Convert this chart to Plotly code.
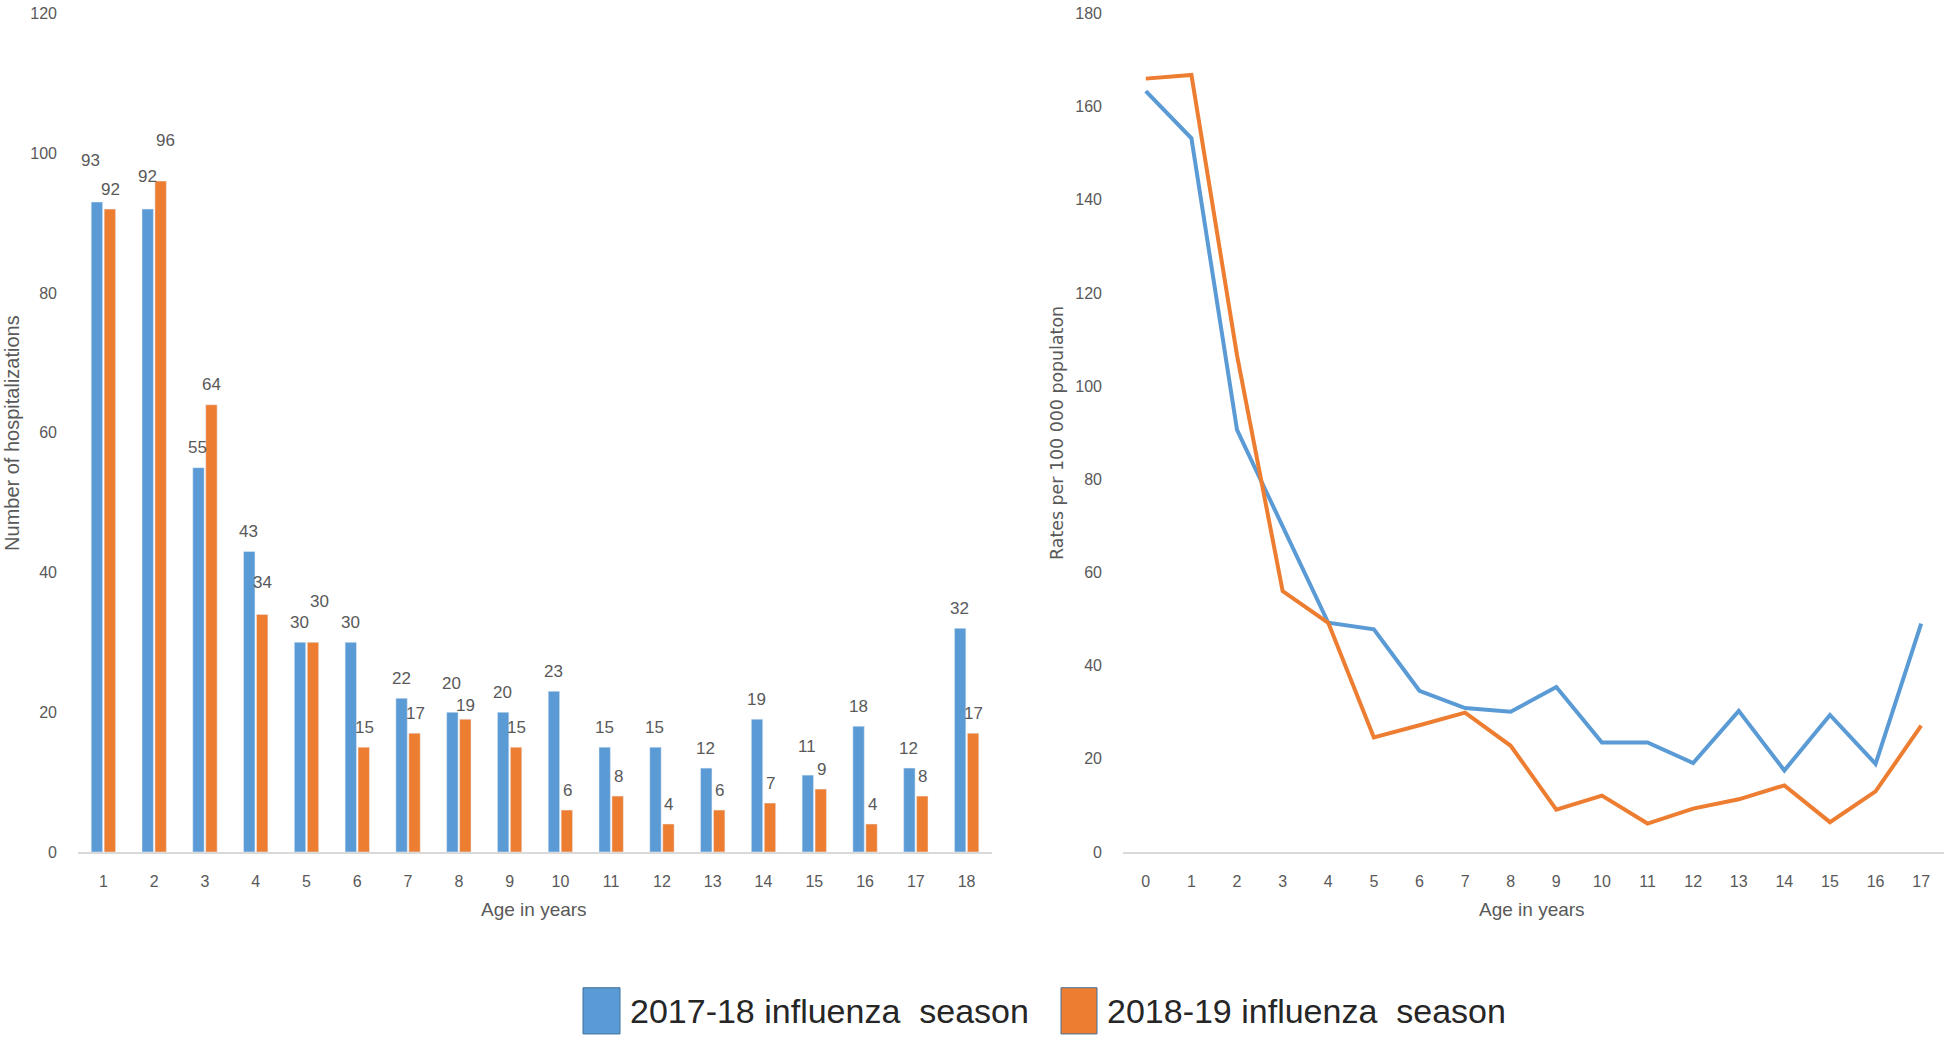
import plotly.graph_objects as go

# ---------------- data ----------------
ages_left = list(range(1, 19))
hosp_1718 = [93, 92, 55, 43, 30, 30, 22, 20, 20, 23, 15, 15, 12, 19, 11, 18, 12, 32]
hosp_1819 = [92, 96, 64, 34, 30, 15, 17, 19, 15, 6, 8, 4, 6, 7, 9, 4, 8, 17]

ages_right = list(range(0, 18))
rate_1718 = [163.3, 153.2, 90.6, 70.0, 49.2, 47.8, 34.6, 30.9, 30.1, 35.4,
             23.5, 23.5, 19.1, 30.3, 17.5, 29.4, 18.9, 49.0]
rate_1819 = [166.0, 166.8, 106.6, 56.0, 49.2, 24.6, 27.2, 29.9, 22.8, 9.1,
             12.1, 6.1, 9.3, 11.3, 14.3, 6.4, 13.0, 27.1]

season_names = ["2017-18 influenza  season", "2018-19 influenza  season"]
left_yticks = [0, 20, 40, 60, 80, 100, 120]
right_yticks = [0, 20, 40, 60, 80, 100, 120, 140, 160, 180]

# manual label nudges (pixels: dx, extra dy) as in the original figure
label_nudge = {
    (0, 1): (-6, 22), (0, 2): (0, 13), (1, 2): (4, 21), (1, 4): (0, 12),
    (1, 5): (6, 21), (0, 8): (0, 9), (1, 8): (0, -6), (0, 15): (0, 9),
}

BLUE = "#5B9BD5"
ORANGE = "#ED7D31"
GRAY = "#595959"
FONT = "Liberation Sans Narrow, Liberation Sans, sans-serif"

W, H = 1946, 1040
PLOT_TOP, PLOT_BOTTOM = 5.5, 858

def px(xp, yp):
    return xp / W, 1 - yp / H

fig = go.Figure()

fig.add_trace(go.Bar(x=ages_left, y=hosp_1718, marker_color=BLUE, name=season_names[0],
                     xaxis="x", yaxis="y", showlegend=False))
fig.add_trace(go.Bar(x=ages_left, y=hosp_1819, marker_color=ORANGE, name=season_names[1],
                     xaxis="x", yaxis="y", showlegend=False))

fig.add_trace(go.Scatter(x=ages_right, y=rate_1718, mode="lines", line=dict(color=BLUE, width=4),
                         xaxis="x2", yaxis="y2", showlegend=False))
fig.add_trace(go.Scatter(x=ages_right, y=rate_1819, mode="lines", line=dict(color=ORANGE, width=4),
                         xaxis="x2", yaxis="y2", showlegend=False))

annotations = []
# data labels above bars
for si, (series, base_dx) in enumerate([(hosp_1718, -7), (hosp_1819, 7)]):
    for a, v in zip(ages_left, series):
        ndx, ndy = label_nudge.get((si, a), (0, 0))
        annotations.append(dict(x=a, y=v, xref="x", yref="y", text=str(v), showarrow=False,
                                xshift=base_dx + ndx, yshift=20 + ndy, yanchor="middle",
                                font=dict(family=FONT, size=17, color=GRAY)))

# axis titles
titles = [
    dict(x=12, y=432, text="Number of hospitalizations", textangle=-90,
         showarrow=False, font=dict(family="Liberation Sans", size=20, color=GRAY)),
    dict(x=534, y=916, text="Age in years", showarrow=False,
         font=dict(family=FONT, size=19, color=GRAY)),
    dict(x=1057, y=432, text="Rates per 100 000 populaton", textangle=-90, showarrow=False,
         font=dict(family="DejaVu Sans", size=17.4, color=GRAY)),
    dict(x=1532, y=916, text="Age in years", showarrow=False,
         font=dict(family=FONT, size=19, color=GRAY)),
]
for ann in titles:
    xp, yp = px(ann["x"], ann["y"])
    ann.update(x=xp, y=yp, xref="paper", yref="paper", xanchor="center", yanchor="middle")
    annotations.append(ann)

# custom legend
shapes = []
legend_items = [(583, 620, season_names[0], BLUE), (1061, 1097, season_names[1], ORANGE)]
for x0, x1, label, col in legend_items:
    a0, b0 = px(x0, 1043)
    a1, b1 = px(x1, 996)
    shapes.append(dict(type="rect", xref="paper", yref="paper", x0=a0, x1=a1, y0=b0, y1=b1,
                       fillcolor=col, line=dict(color="#41719C", width=1)))
    tx, ty = px(x1 + 8, 1020)
    annotations.append(dict(x=tx, y=ty, xref="paper", yref="paper", text=label, showarrow=False,
                            xanchor="left", yanchor="middle",
                            font=dict(family=FONT, size=34, color="#262626")))

tickfont = dict(family=FONT, size=16, color=GRAY)
ydom = [1 - PLOT_BOTTOM / H, 1 - PLOT_TOP / H]

fig.update_layout(
    width=W, height=H,
    margin=dict(l=0, r=0, t=0, b=0),
    paper_bgcolor="white", plot_bgcolor="white",
    barmode="group", bargap=0.49, bargroupgap=0.12,
    annotations=annotations, shapes=shapes,
    xaxis=dict(domain=[78 / W, 992 / W], range=[0.5, 18.5], tickmode="array",
               tickvals=ages_left, ticktext=[str(a) for a in ages_left],
               showgrid=False, zeroline=False, showline=True, linecolor="#D9D9D9", linewidth=2,
               ticks="", tickfont=tickfont, ticklabelstandoff=14, anchor="y"),
    yaxis=dict(domain=ydom, range=[0, 120], tickmode="array",
               tickvals=left_yticks, showgrid=False, zeroline=False, showline=False,
               ticks="", tickfont=tickfont, ticklabelstandoff=20, anchor="x",
               ticklabeloverflow="allow"),
    xaxis2=dict(domain=[1123 / W, 1944 / W], range=[-0.5, 17.5], tickmode="array",
                tickvals=ages_right, ticktext=[str(a) for a in ages_right],
                showgrid=False, zeroline=False, showline=True, linecolor="#D9D9D9", linewidth=2,
                ticks="", tickfont=tickfont, ticklabelstandoff=14, anchor="y2"),
    yaxis2=dict(domain=ydom, range=[0, 180], tickmode="array",
                tickvals=right_yticks, showgrid=False, zeroline=False, showline=False,
                ticks="", tickfont=tickfont, ticklabelstandoff=20, anchor="x2",
                ticklabeloverflow="allow"),
)

post = (
    "document.documentElement.style.margin='0';"
    "document.documentElement.style.overflow='hidden';"
    "document.body.style.margin='0';document.body.style.overflow='hidden';"
    "var g=document.querySelector('.plotly-graph-div');"
    "if(g){g.style.position='absolute';g.style.top='0px';g.style.left='0px';}"
)
fig.write_html("out.html", config={"displayModeBar": False}, post_script=post)
